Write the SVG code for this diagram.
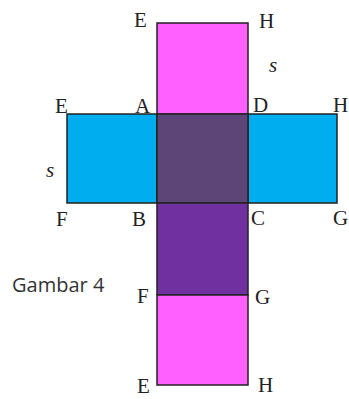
<svg xmlns="http://www.w3.org/2000/svg" width="349" height="399" viewBox="0 0 349 399">
<style>
.f{stroke:#222;stroke-width:1.5}
.pink{fill:#ff60ff}
.blue{fill:#00aeef}
.mid{fill:#5e4577}
.purple{fill:#7030a0}
.l{font-family:"Liberation Serif",serif;font-size:21px;fill:#222}
.s{font-family:"Liberation Serif",serif;font-size:21px;font-style:italic;fill:#222}
.g{font-family:"Open Sans","Liberation Sans",sans-serif;font-size:20px;fill:#333}
</style>
<rect width="349" height="399" fill="#fff"/>
<g id="top"><rect class="f pink" x="157" y="23" width="91" height="91"/></g>
<g id="left"><rect class="f blue" x="67" y="114" width="90" height="89"/></g>
<g id="right"><rect class="f blue" x="248" y="114" width="89" height="89"/></g>
<g id="center"><rect class="f mid" x="157" y="114" width="91" height="89"/></g>
<g id="below"><rect class="f purple" x="157" y="203" width="91" height="92"/></g>
<g id="bottom"><rect class="f pink" x="157" y="295" width="91" height="90"/></g>
<g id="labels">
<text class="l" x="134" y="27">E</text>
<text class="l" x="259" y="28">H</text>
<text class="s" x="269" y="72">s</text>
<text class="l" x="55" y="113">E</text>
<text class="l" x="135" y="113">A</text>
<text class="l" x="253" y="112">D</text>
<text class="l" x="333" y="112">H</text>
<text class="s" x="46" y="177">s</text>
<text class="l" x="56" y="226">F</text>
<text class="l" x="132" y="226">B</text>
<text class="l" x="251" y="225">C</text>
<text class="l" x="333" y="225">G</text>
<text class="g" x="12" y="292">Gambar 4</text>
<text class="l" x="137" y="303">F</text>
<text class="l" x="255" y="304">G</text>
<text class="l" x="137" y="393">E</text>
<text class="l" x="258" y="392">H</text>
</g>
</svg>
